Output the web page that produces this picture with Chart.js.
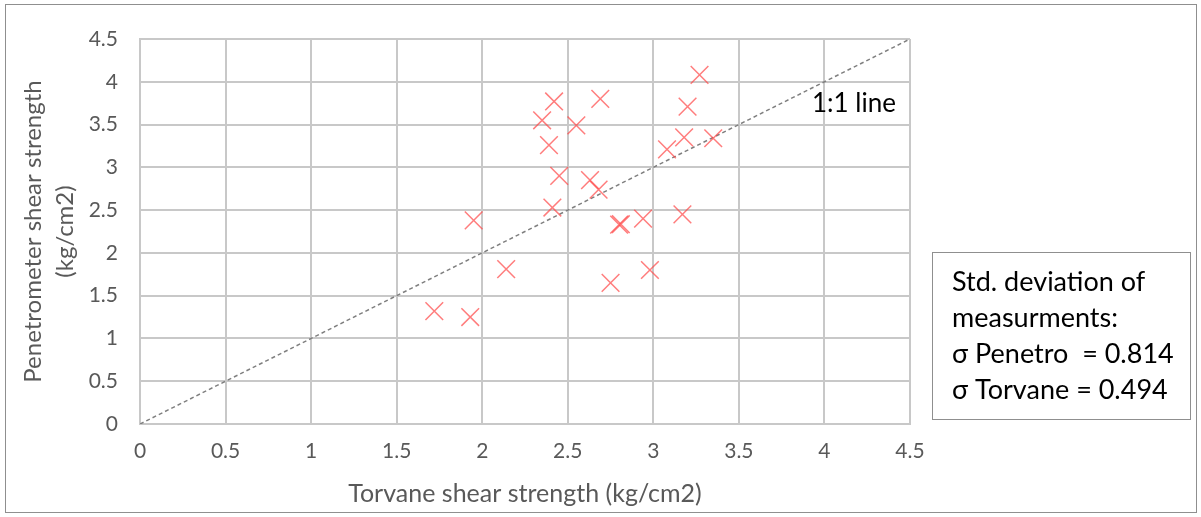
<!DOCTYPE html>
<html>
<head>
<meta charset="utf-8">
<script src="https://cdn.jsdelivr.net/npm/chart.js@4.4.1/dist/chart.umd.min.js"></script>
<style>
  html, body { margin: 0; padding: 0; background: #fff; }
  #wrap { width: 1201px; height: 517px; position: relative; }
</style>
</head>
<body>
<div id="wrap"><canvas id="c" width="1201" height="517"></canvas></div>
<script>
// ---- data ----
const torvane  = [3.27, 2.42, 2.69, 3.20, 2.35, 2.55, 2.39, 3.18, 3.35, 3.08, 2.45, 2.63, 2.68, 2.41, 1.95, 2.80, 2.81, 2.94, 3.17, 2.14, 2.75, 2.98, 1.72, 1.93];
const penetro  = [4.08, 3.77, 3.80, 3.71, 3.55, 3.49, 3.26, 3.35, 3.34, 3.21, 2.90, 2.85, 2.74, 2.53, 2.38, 2.33, 2.335, 2.40, 2.45, 1.81, 1.65, 1.80, 1.32, 1.25];
const oneToOneX = [0, 4.5];
const oneToOneY = [0, 4.5];
const xTicks = [0, 0.5, 1, 1.5, 2, 2.5, 3, 3.5, 4, 4.5];
const yTicks = [0, 0.5, 1, 1.5, 2, 2.5, 3, 3.5, 4, 4.5];
const xTitle = 'Torvane shear strength (kg/cm2)';
const yTitle = ['Penetrometer shear strength', '(kg/cm2)'];
const lineLabel = '1:1 line';
const noteLines = ['Std. deviation of', 'measurments:', '\u03C3 Penetro  = 0.814', '\u03C3 Torvane = 0.494'];

const FONT = 'Lato';
const TXT = '#595959';
const GRID = '#c8c8c8';

const extras = {
  id: 'extras',
  afterDraw(chart) {
    const ctx = chart.ctx;
    ctx.save();
    // outer border
    ctx.strokeStyle = '#8f8f8f';
    ctx.lineWidth = 1;
    ctx.strokeRect(5.5, 4.5, 1191, 508);
    // 1:1 label
    ctx.fillStyle = '#000';
    ctx.font = '26px ' + FONT;
    ctx.textBaseline = 'middle';
    ctx.textAlign = 'left';
    ctx.fillText(lineLabel, 812, 104);
    // note box
    ctx.fillStyle = '#fff';
    ctx.fillRect(932.5, 252.5, 258, 167);
    ctx.strokeStyle = '#8f8f8f';
    ctx.strokeRect(932.5, 252.5, 258, 167);
    ctx.fillStyle = '#000';
    ctx.font = '27px ' + FONT;
    noteLines.forEach((t, i) => ctx.fillText(t, 952, 282 + i * 36));
    ctx.restore();
  }
};

new Chart(document.getElementById('c'), {
  type: 'scatter',
  data: {
    datasets: [
      {
        label: 'data',
        data: torvane.map((x, i) => ({ x, y: penetro[i] })),
        pointStyle: 'crossRot',
        pointRadius: 12.5,
        pointBorderColor: 'rgba(255,70,70,0.7)',
        pointBackgroundColor: 'rgba(255,70,70,0.7)',
        borderWidth: 1.5,
        pointBorderWidth: 1.5,
        showLine: false,
        order: 1
      },
      {
        label: '1:1',
        type: 'line',
        data: oneToOneX.map((x, i) => ({ x, y: oneToOneY[i] })),
        borderColor: '#808080',
        borderWidth: 1.5,
        borderDash: [4, 3],
        pointRadius: 0,
        fill: false,
        order: 2
      }
    ]
  },
  options: {
    responsive: false,
    animation: false,
    layout: { padding: { left: 0, right: 291, top: 39, bottom: 0 } },
    plugins: { legend: { display: false }, tooltip: { enabled: false } },
    scales: {
      x: {
        type: 'linear', min: 0, max: 4.5,
        afterBuildTicks: s => { s.ticks = xTicks.map(v => ({ value: v })); },
        afterFit: s => { s.height = 93; },
        grid: { color: GRID, lineWidth: 2, drawTicks: false },
        border: { color: GRID, width: 2 },
        ticks: { color: TXT, font: { family: FONT, size: 21 }, padding: 15, maxRotation: 0, callback: v => String(v) },
        title: { display: true, text: xTitle, color: TXT, font: { family: FONT, size: 25, lineHeight: 1.2 }, padding: { bottom: 8, top: 0 } }
      },
      y: {
        type: 'linear', min: 0, max: 4.5,
        afterBuildTicks: s => { s.ticks = yTicks.map(v => ({ value: v })); },
        afterFit: s => { s.width = 140; },
        grid: { color: GRID, lineWidth: 2, drawTicks: false },
        border: { color: GRID, width: 2 },
        ticks: { color: TXT, font: { family: FONT, size: 21 }, padding: 22, callback: v => String(v) },
        title: { display: true, text: yTitle, color: TXT, font: { family: FONT, size: 24, lineHeight: 1.33 }, padding: { top: 17, bottom: 0 } }
      }
    }
  },
  plugins: [extras]
});
</script>
</body>
</html>
